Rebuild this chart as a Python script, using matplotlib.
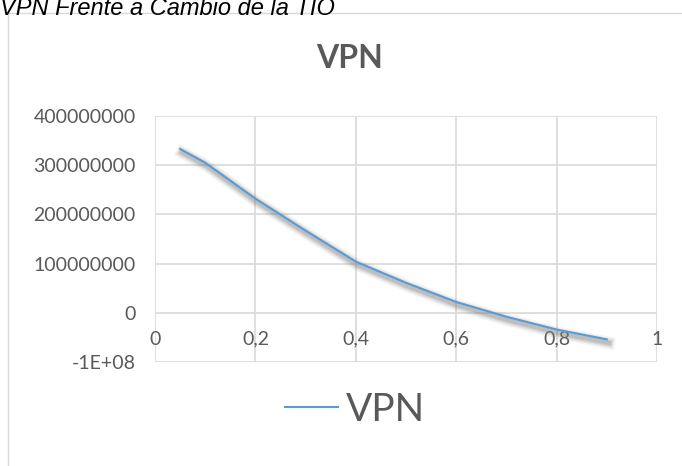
import matplotlib
matplotlib.use("Agg")
import matplotlib.pyplot as plt
import matplotlib.patheffects as pe
from matplotlib.lines import Line2D
from matplotlib.patches import Rectangle

# TIO values and the VPN
tio = [0.05, 0.1, 0.2, 0.3, 0.4, 0.5, 0.6, 0.7, 0.8, 0.9]
vpn = [333e6, 305e6, 232e6, 167e6, 104e6, 61e6, 22e6, -8e6, -34e6, -54e6]

xticks = [0, 0.2, 0.4, 0.6, 0.8, 1]
xtick_labels = ["0", "0,2", "0,4", "0,6", "0,8", "1"]
yticks = [-1e8, 0, 1e8, 2e8, 3e8, 4e8]
ytick_labels = ["-1E+08", "0", "100000000", "200000000", "300000000", "400000000"]

TEXT = "#595959"
GRID = "#d9d9d9"
LINE = "#5b9bd5"
FONT = ["Lato", "DejaVu Sans"]

plt.rcParams["font.family"] = FONT

fig = plt.figure(figsize=(6.82, 4.66), dpi=100)

# chart frame (Excel chart area border)
fig.patches.append(Rectangle((8 / 682, -0.01), 1.0, 1 - 13 / 466 + 0.01,
                             transform=fig.transFigure, fill=False,
                             edgecolor=GRID, lw=1))

# caption above the chart, partly cut off by the top edge as in the source
fig.text(0.0, 1 - 15 / 466, "VPN Frente a Cambio de la TIO",
         fontsize=17, style="italic", family="Liberation Sans",
         ha="left", va="baseline", color="black")

ax = fig.add_axes([155 / 682, 1 - 362 / 466, 502 / 682, 246 / 466])

# soft shadow under the line
shadow = [pe.SimpleLineShadow(offset=(1.5, -2.5), shadow_color="#808080",
                              alpha=a, linewidth=w)
          for w, a in [(9, 0.08), (7, 0.12), (5, 0.18), (3, 0.25)]]
ax.plot(tio, vpn, color=LINE, lw=1.5, path_effects=shadow + [pe.Normal()])

ax.set_xlim(0, 1)
ax.set_ylim(-1e8, 4e8)
ax.set_xticks(xticks)
ax.set_xticklabels(xtick_labels)
ax.set_yticks(yticks)
ax.set_yticklabels(ytick_labels)

for s in ax.spines.values():
    s.set_visible(False)
ax.spines["bottom"].set_position(("data", 0))
ax.grid(True, color=GRID, lw=1.2)
ax.set_axisbelow(True)
ax.tick_params(axis="both", length=0, colors=TEXT, labelsize=14)
ax.tick_params(axis="y", pad=14)
ax.tick_params(axis="x", pad=13)

fig.text(350 / 682, 1 - 58 / 466, "VPN", fontsize=23, fontweight="bold",
         color=TEXT, ha="center", va="center")

# legend
handle = Line2D([], [], color=LINE, lw=1.5)
fig.legend([handle], ["VPN"], loc="center",
           bbox_to_anchor=(355 / 682, 1 - 410 / 466),
           frameon=False, fontsize=28, handlelength=1.35, handletextpad=0.2,
           labelcolor=TEXT)

fig.savefig("out.png", dpi=100)
